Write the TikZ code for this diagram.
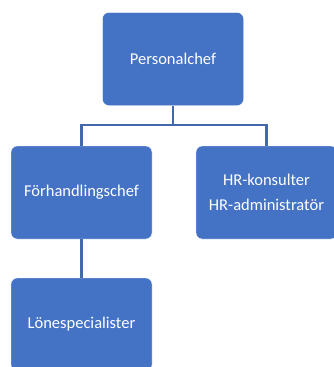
\documentclass[tikz,border=0pt]{standalone}
\usepackage{fontspec}
\setmainfont{Carlito}
\definecolor{boxblue}{HTML}{4472C4}
\definecolor{lineblue}{HTML}{4468AC}
\tikzset{
    orgbox/.style={fill=boxblue,draw=white,line width=0.4pt,rounded corners=6pt,
        minimum width=141pt,minimum height=93pt,text=white,align=center,
        font=\fontsize{16.5}{25}\selectfont,inner sep=0pt},
    orgline/.style={draw=lineblue,line width=2.2pt}
}
\begin{document}
\begin{tikzpicture}[x=1pt,y=1pt]
        \useasboundingbox (0,0) rectangle (333,-367);
        %% Boxes
        \node[orgbox] (chef) at (173,-59) {Personalchef};
        \node[orgbox] (forh) at (81.5,-192.5) {Förhandlingschef};
        \node[orgbox] (hr) at (266.5,-192.5) {HR-konsulter\\HR-administratör};
        \node[orgbox] (lone) at (81.5,-324.5) {Lönespecialister};
        %% Lines
        \coordinate (split) at (173,-125);
        \draw[orgline] (chef.south) -- (split);
        \draw[orgline] (forh.north) |- (split) -| (hr.north);
        \draw[orgline] (forh.south) -- (lone.north);
\end{tikzpicture}
\end{document}
